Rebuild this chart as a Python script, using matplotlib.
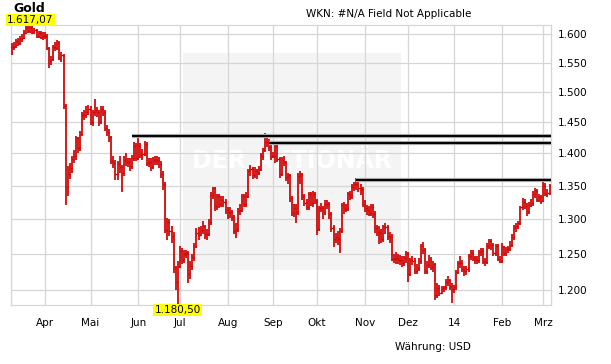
import numpy as np
import pandas as pd
import matplotlib
matplotlib.use("Agg")
from matplotlib import pyplot as plt
from matplotlib import patheffects as pe
from matplotlib.patches import Rectangle
from matplotlib.ticker import FixedLocator, NullLocator

# trading days shown in the chart
dates = pd.bdate_range("2013-03-08", "2014-03-06")

close = [1577, 1579, 1588, 1584, 1591, 1594, 1603, 1611, 1606, 1612, 1605, 1608, 1597, 1603, 1596, 1598,
         1598, 1576, 1553, 1557, 1578, 1576, 1585, 1558, 1564, 1477, 1348, 1368, 1377, 1391, 1395, 1424, 1408, 1431, 1462, 1462, 1467, 1472,
         1450, 1466, 1470, 1467, 1450, 1472, 1466, 1440, 1434, 1426, 1388, 1385, 1367, 1383, 1378, 1370, 1390, 1387, 1386, 1380, 1392, 1412, 1393,
         1411, 1398, 1399, 1414, 1384, 1386, 1379, 1390, 1388, 1390, 1383, 1368, 1352, 1285, 1296, 1283, 1276, 1230, 1211, 1234,
         1254, 1242, 1250, 1251, 1223, 1234, 1246, 1262, 1280, 1277, 1284, 1290, 1278, 1279, 1296, 1336, 1346, 1320, 1334, 1322, 1328, 1325, 1313,
         1311, 1310, 1303, 1283, 1286, 1312, 1313, 1334, 1323, 1335, 1372, 1375, 1366, 1372, 1370, 1376, 1396, 1405, 1418, 1418, 1410, 1396,
         1396, 1411, 1391, 1367, 1390, 1386, 1363, 1366, 1332, 1309, 1316, 1310, 1364, 1367, 1334, 1324, 1318, 1337, 1324, 1338, 1327,
         1286, 1317, 1316, 1310, 1323, 1322, 1307, 1287, 1272, 1274, 1272, 1283, 1321, 1315, 1316, 1337, 1334, 1348, 1352, 1353, 1346, 1345, 1323,
         1316, 1314, 1309, 1318, 1308, 1287, 1281, 1280, 1272, 1288, 1288, 1275, 1274, 1243, 1243, 1244, 1242, 1242, 1238, 1244, 1251,
         1222, 1242, 1241, 1226, 1230, 1240, 1261, 1256, 1226, 1235, 1242, 1232, 1236, 1194, 1203, 1197, 1203, 1204, 1212, 1214, 1206, 1202,
         1204, 1225, 1237, 1238, 1229, 1226, 1229, 1247, 1252, 1245, 1242, 1242, 1253, 1254, 1241, 1239, 1262, 1268, 1263, 1252, 1261, 1243, 1241,
         1260, 1252, 1257, 1257, 1263, 1274, 1289, 1290, 1294, 1318, 1326, 1320, 1311, 1321, 1324, 1337, 1342, 1329, 1333, 1327,
         1350, 1337, 1339, 1350]

high = [1584, 1586, 1592, 1593, 1597, 1600, 1608, 1616, 1617.07, 1616, 1615, 1612, 1610, 1607, 1606, 1604,
        1605, 1600, 1578, 1562, 1582, 1586, 1590, 1588, 1568, 1566, 1480, 1380, 1385, 1396, 1405, 1428, 1426, 1436, 1466, 1470, 1476, 1478,
        1476, 1470, 1488, 1475, 1470, 1477, 1476, 1470, 1445, 1438, 1428, 1396, 1390, 1388, 1396, 1382, 1395, 1400, 1392, 1392, 1398, 1418, 1416,
        1424, 1416, 1406, 1420, 1418, 1392, 1392, 1394, 1395, 1396, 1394, 1388, 1372, 1356, 1302, 1300, 1290, 1282, 1234, 1240,
        1262, 1258, 1256, 1256, 1254, 1240, 1250, 1266, 1287, 1288, 1290, 1298, 1292, 1286, 1300, 1340, 1348, 1348, 1338, 1337, 1335, 1334, 1330,
        1318, 1318, 1314, 1306, 1294, 1316, 1322, 1338, 1338, 1340, 1376, 1382, 1378, 1378, 1376, 1380, 1400, 1408, 1433, 1425, 1422, 1414,
        1402, 1416, 1414, 1394, 1394, 1396, 1388, 1370, 1368, 1334, 1322, 1322, 1369, 1372, 1370, 1337, 1330, 1340, 1340, 1342, 1340,
        1330, 1320, 1324, 1320, 1328, 1328, 1326, 1310, 1292, 1280, 1283, 1287, 1324, 1325, 1322, 1341, 1342, 1352, 1356, 1362, 1360, 1352, 1348,
        1328, 1321, 1320, 1322, 1322, 1312, 1292, 1290, 1286, 1291, 1294, 1292, 1281, 1278, 1250, 1253, 1250, 1249, 1248, 1248, 1254,
        1253, 1245, 1248, 1244, 1236, 1244, 1264, 1267, 1259, 1240, 1249, 1246, 1240, 1238, 1210, 1208, 1206, 1206, 1216, 1219, 1216, 1210,
        1207, 1228, 1240, 1248, 1242, 1233, 1234, 1250, 1256, 1256, 1248, 1247, 1256, 1258, 1258, 1245, 1266, 1272, 1272, 1266, 1264, 1264, 1248,
        1265, 1262, 1260, 1262, 1268, 1278, 1292, 1294, 1298, 1320, 1332, 1330, 1324, 1325, 1330, 1342, 1346, 1345, 1337, 1336,
        1355, 1354, 1345, 1353]

low = [1563, 1572, 1576, 1580, 1582, 1587, 1592, 1600, 1602, 1603, 1600, 1600, 1593, 1594, 1591, 1590,
       1592, 1572, 1540, 1546, 1553, 1570, 1572, 1555, 1552, 1472, 1321, 1335, 1360, 1370, 1384, 1390, 1400, 1404, 1428, 1453, 1456, 1462,
       1445, 1444, 1460, 1458, 1444, 1446, 1460, 1436, 1428, 1418, 1383, 1377, 1358, 1359, 1370, 1340, 1365, 1380, 1378, 1372, 1375, 1388, 1388,
       1390, 1392, 1390, 1395, 1380, 1378, 1372, 1376, 1381, 1382, 1377, 1362, 1344, 1280, 1270, 1276, 1266, 1224, 1200, 1180.5,
       1230, 1236, 1237, 1244, 1210, 1215, 1228, 1240, 1258, 1270, 1275, 1279, 1272, 1270, 1275, 1292, 1330, 1312, 1314, 1316, 1318, 1318, 1308,
       1300, 1302, 1297, 1278, 1273, 1282, 1306, 1310, 1318, 1318, 1332, 1364, 1360, 1362, 1360, 1366, 1372, 1390, 1402, 1410, 1404, 1390,
       1392, 1385, 1386, 1362, 1364, 1380, 1357, 1352, 1326, 1305, 1303, 1295, 1306, 1352, 1328, 1320, 1314, 1314, 1320, 1318, 1322,
       1277, 1283, 1310, 1300, 1306, 1315, 1300, 1282, 1260, 1266, 1263, 1251, 1280, 1308, 1310, 1312, 1328, 1330, 1342, 1343, 1340, 1336, 1318,
       1311, 1306, 1304, 1305, 1302, 1280, 1276, 1264, 1266, 1267, 1278, 1270, 1266, 1240, 1238, 1236, 1236, 1235, 1232, 1234, 1238,
       1212, 1220, 1235, 1222, 1222, 1226, 1236, 1250, 1223, 1222, 1230, 1228, 1225, 1187, 1190, 1193, 1195, 1198, 1200, 1206, 1201, 1183,
       1196, 1200, 1222, 1231, 1225, 1220, 1221, 1225, 1242, 1240, 1236, 1236, 1238, 1247, 1236, 1233, 1236, 1257, 1256, 1248, 1248, 1240, 1237,
       1238, 1248, 1248, 1251, 1254, 1260, 1270, 1282, 1286, 1292, 1314, 1315, 1305, 1308, 1318, 1320, 1332, 1325, 1325, 1322,
       1325, 1334, 1333, 1336]

month_labels = ["Apr", "Mai", "Jun", "Jul", "Aug", "Sep", "Okt", "Nov", "Dez", "14", "Feb", "Mrz"]
y_ticks = [1200, 1250, 1300, 1350, 1400, 1450, 1500, 1550, 1600]

# resistance lines: level and start day
res_levels = [1427, 1417, 1359]
res_start = ["2013-05-29", "2013-08-29", "2013-10-28"]

RED = "#d00000"
GRID = "#d6d6d6"


def de_num(v, nd):
    s = f"{v:,.{nd}f}"
    return s.replace(",", "X").replace(".", ",").replace("X", ".")


close = np.array(close, dtype=float)
high = np.array(high, dtype=float)
low = np.array(low, dtype=float)
opn = np.r_[close[0], close[:-1]]
x = np.arange(len(dates))

fig = plt.figure(figsize=(6.11, 3.64), dpi=100)
ax = fig.add_axes([11 / 611, 59 / 364, 540 / 611, 280 / 364])

# watermark box + text
ax.add_patch(Rectangle((183 / 611, 1 - 270 / 364), 218 / 611, 217 / 364, transform=fig.transFigure,
                       facecolor="#f4f4f4", edgecolor="none", zorder=0.1, clip_on=False))
ax.text(292 / 611, 1 - 161 / 364, "DER AKTIONÄR", transform=fig.transFigure, ha="center", va="center",
        fontsize=17, fontweight="bold", color="white", zorder=0.2)

# OHLC bars
ax.vlines(x, low, high, color=RED, lw=1.25, zorder=3)
ax.hlines(opn, x - 0.5, x, color=RED, lw=1.0, zorder=3)
ax.hlines(close, x, x + 0.5, color=RED, lw=1.0, zorder=3)

x_min, x_max = -0.3, len(dates) - 0.3

for lvl, s in zip(res_levels, res_start):
    xs = dates.get_loc(pd.Timestamp(s))
    ax.plot([xs, x_max], [lvl, lvl], color="black", lw=1.4, solid_capstyle="butt", zorder=4,
            path_effects=[pe.Stroke(linewidth=3.0, foreground="#a8a8a8"), pe.Normal()])

ax.set_yscale("log")
ax.set_xlim(x_min, x_max)
ax.set_ylim(low.min(), high.max())

months = pd.Series(dates.to_period("M"))
month_pos = np.flatnonzero(months.ne(months.shift()).values)[1:]
ax.set_xticks(month_pos)
ax.set_xticklabels(month_labels)

ax.yaxis.set_major_locator(FixedLocator(y_ticks))
ax.yaxis.set_minor_locator(NullLocator())
ax.set_yticklabels([de_num(v, 0) for v in y_ticks])
ax.yaxis.tick_right()
ax.tick_params(axis="y", length=0, pad=5, labelsize=7.5)
ax.tick_params(axis="x", length=0, pad=9, labelsize=7.5)

ax.set_axisbelow(True)
ax.grid(True, color=GRID, lw=0.9)
for sp in ax.spines.values():
    sp.set_color(GRID)
    sp.set_linewidth(0.9)

# max / min labels
i_max = int(np.argmax(high))
i_min = int(np.argmin(low))
box = dict(boxstyle="square,pad=0.12", facecolor="#ffff00", edgecolor="none")
ax.text(i_max + 1, 1.0, de_num(high[i_max], 2), transform=ax.get_xaxis_transform(), ha="center", va="bottom",
        fontsize=7.5, bbox=box, clip_on=False, zorder=6)
ax.text(i_min, 0.0, de_num(low[i_min], 2), transform=ax.get_xaxis_transform(), ha="center", va="top",
        fontsize=7.5, bbox=box, clip_on=False, zorder=6)

fig.text(13 / 611, 1 - 12 / 364, "Gold", fontsize=9, fontweight="bold", va="baseline", zorder=1)
fig.text(471 / 611, 1 - 14 / 364, "WKN: #N/A Field Not Applicable", ha="right", va="center", fontsize=7.5)
fig.text(471 / 611, 1 - 347 / 364, "Währung: USD", ha="right", va="center", fontsize=7.5)

fig.savefig("out.png", dpi=100)
